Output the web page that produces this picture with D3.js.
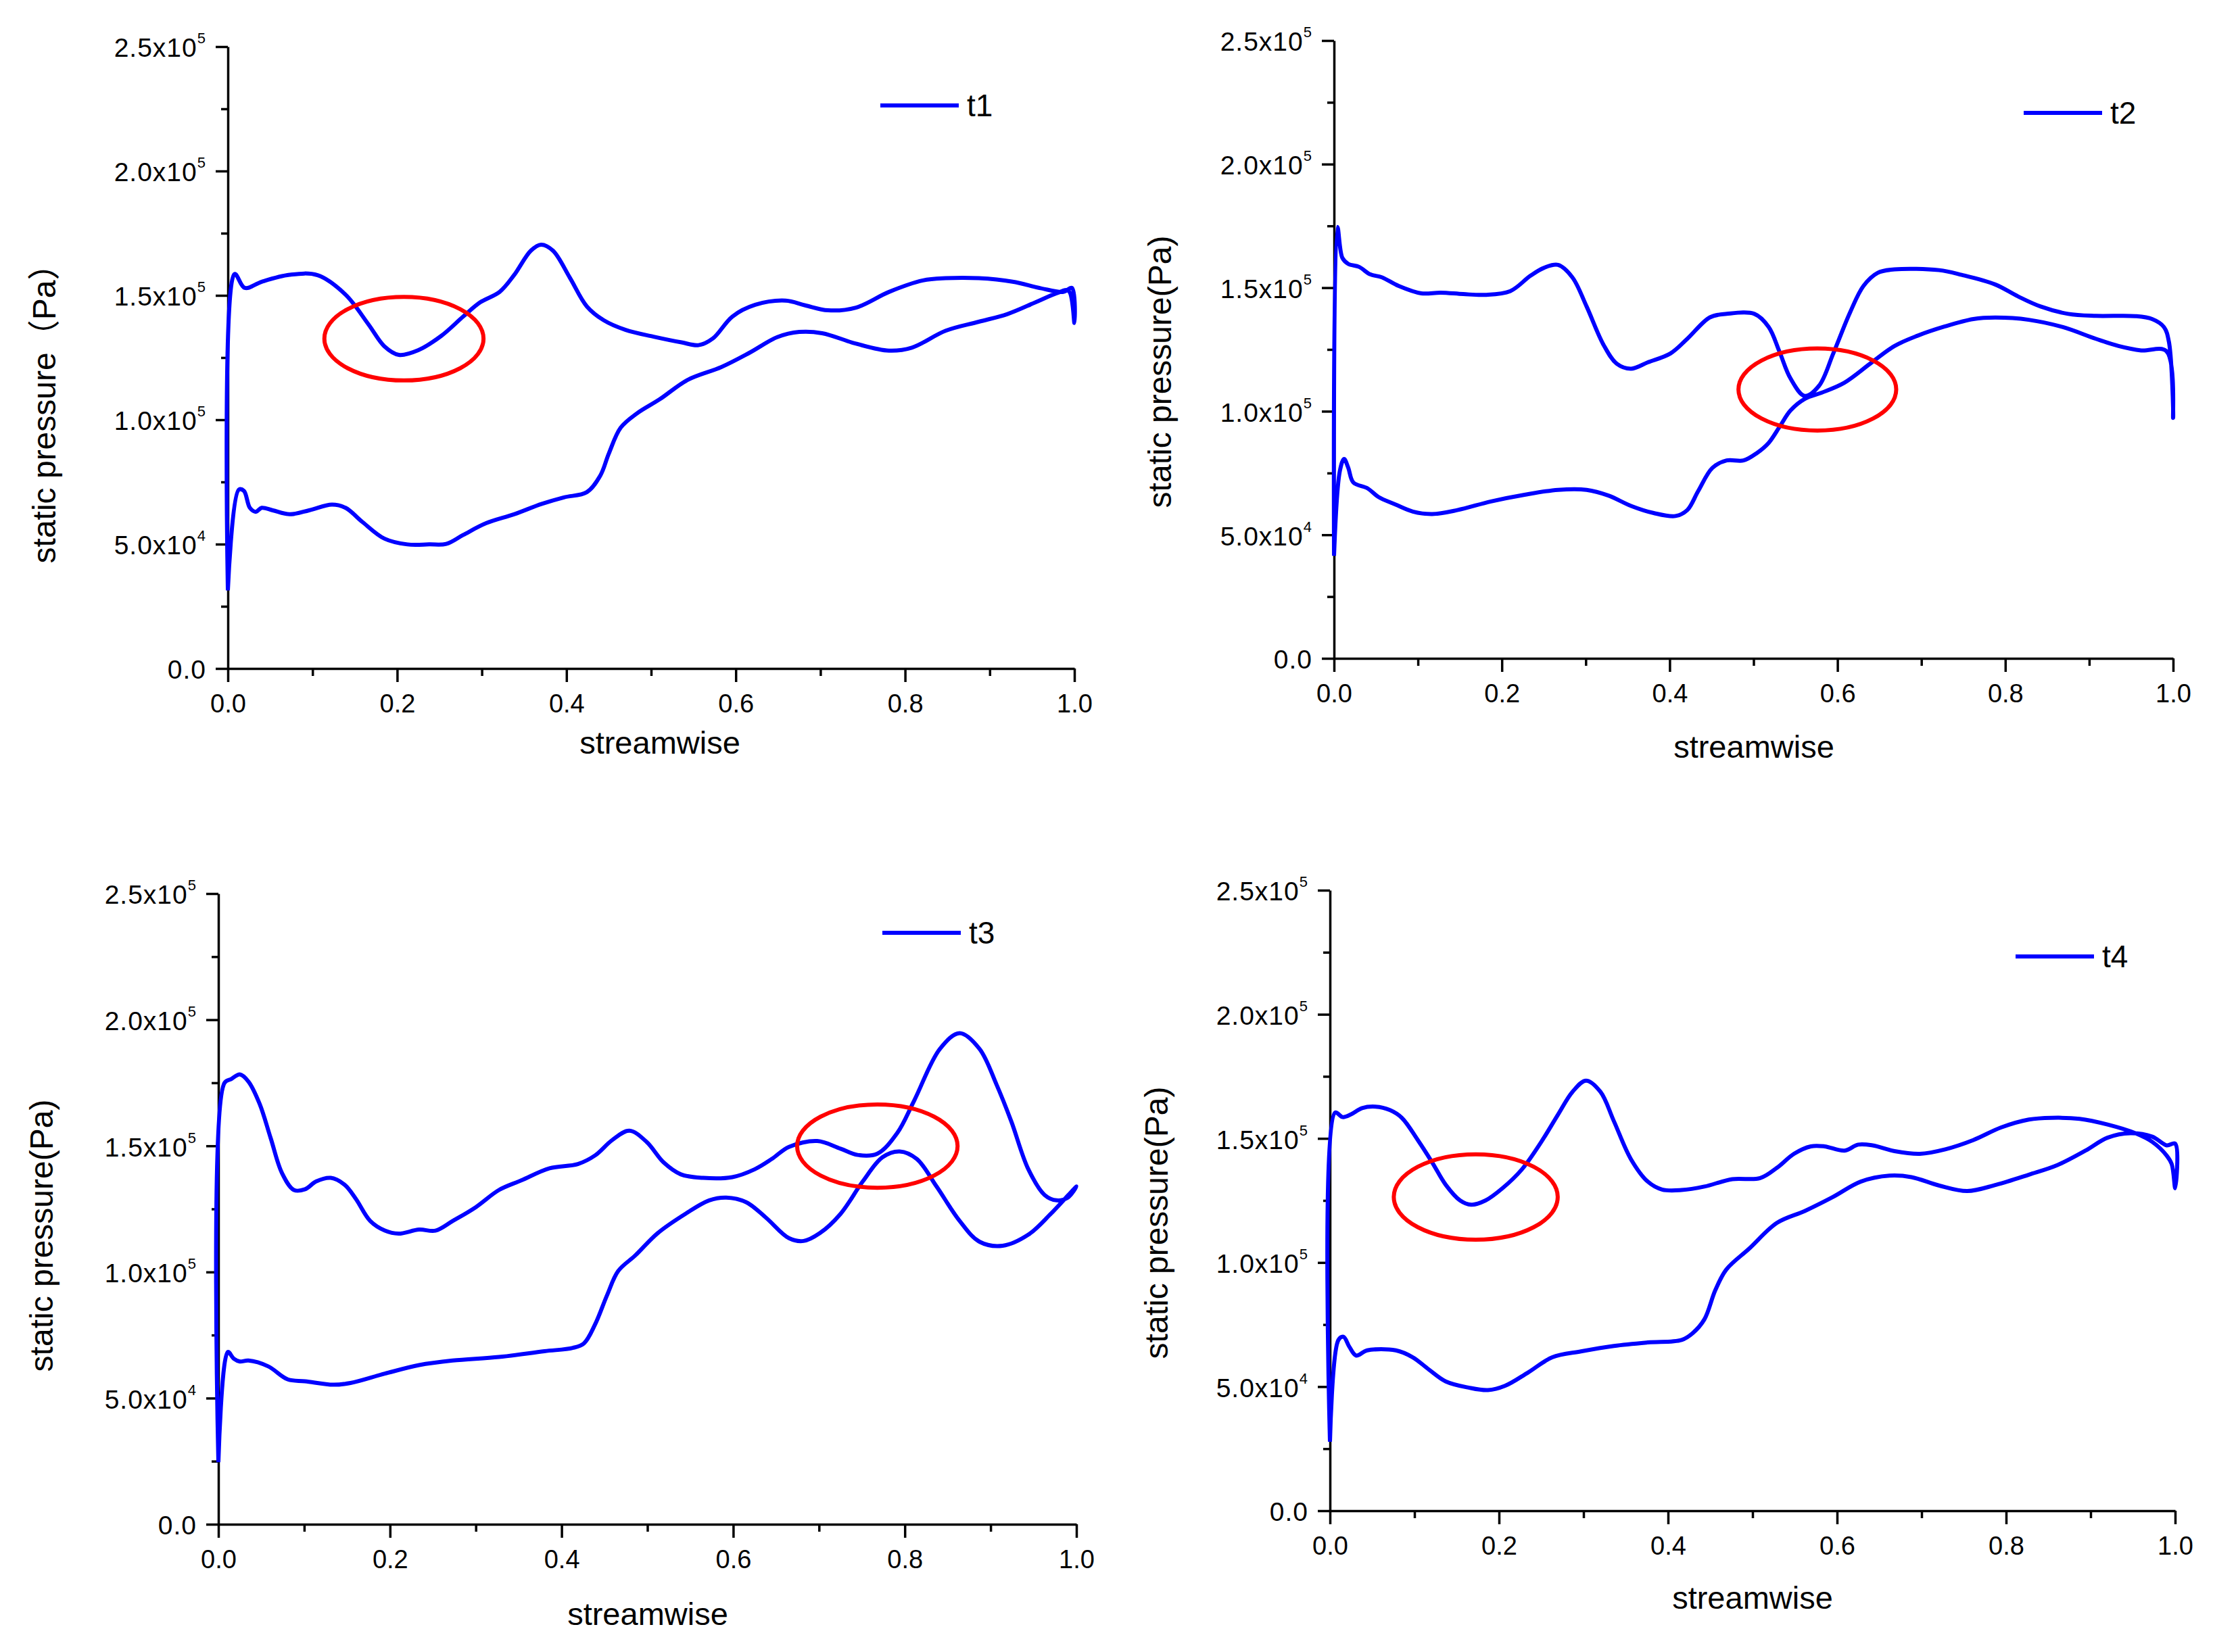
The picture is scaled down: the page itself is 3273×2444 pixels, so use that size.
<!DOCTYPE html>
<html lang="en">
<head>
    <meta charset="utf-8" />
    <script src="https://d3js.org/d3.v7.min.js"></script>
    <title>Static pressure</title>
    <style>
        body { margin: 0; background: #fff; }
        text { font-family: "Liberation Sans", Arial, "Noto Sans CJK SC", sans-serif; fill: #000; }
    </style>
</head>
<body>
    <script>
        // x ticks
        const xMajorTicks = [0, 0.2, 0.4, 0.6, 0.8, 1.0];
        const xMinorTicks = [0.1, 0.3, 0.5, 0.7, 0.9];
        const xTickLabels = ["0.0", "0.2", "0.4", "0.6", "0.8", "1.0"];

        // y ticks (pressure in 1e5 Pa)
        const yMajorTicks = [0, 0.5, 1.0, 1.5, 2.0, 2.5];
        const yMinorTicks = [0.25, 0.75, 1.25, 1.75, 2.25];
        const yTickMantissa = ["0.0", "5.0x10", "1.0x10", "1.5x10", "2.0x10", "2.5x10"];
        const yTickExponent = ["", "4", "5", "5", "5", "5"];

        const seriesNames = ["t1", "t2", "t3", "t4"];

        // [streamwise, static pressure (1e5 Pa)]
        const t1Upper = [[0,0.314],[0.008,1.586],[0.02,1.53],[0.04,1.555],[0.073,1.583],[0.106,1.581],[0.139,1.503],[0.166,1.384],[0.185,1.295],[0.202,1.261],[0.225,1.28],[0.252,1.337],[0.278,1.415],[0.298,1.472],[0.321,1.514],[0.338,1.581],[0.358,1.68],[0.37,1.704],[0.384,1.68],[0.404,1.571],[0.424,1.456],[0.444,1.4],[0.47,1.361],[0.503,1.334],[0.536,1.311],[0.556,1.3],[0.573,1.327],[0.596,1.415],[0.623,1.462],[0.659,1.479],[0.682,1.46],[0.709,1.44],[0.742,1.451],[0.781,1.514],[0.821,1.56],[0.848,1.569],[0.887,1.569],[0.927,1.555],[0.96,1.529],[0.987,1.514],[0.997,1.53],[1.0,1.389]];
        const t1Lower = [[0,0.314],[0.013,0.719],[0.019,0.714],[0.026,0.646],[0.033,0.63],[0.04,0.646],[0.053,0.636],[0.073,0.62],[0.096,0.636],[0.123,0.659],[0.139,0.646],[0.159,0.589],[0.185,0.522],[0.212,0.499],[0.238,0.499],[0.258,0.501],[0.278,0.537],[0.305,0.584],[0.338,0.62],[0.371,0.662],[0.397,0.688],[0.424,0.709],[0.44,0.776],[0.45,0.864],[0.464,0.968],[0.483,1.025],[0.51,1.082],[0.543,1.16],[0.583,1.212],[0.616,1.269],[0.649,1.332],[0.675,1.353],[0.702,1.348],[0.742,1.306],[0.781,1.278],[0.808,1.29],[0.848,1.358],[0.887,1.394],[0.921,1.425],[0.954,1.472],[0.98,1.51],[0.993,1.519]];

        const t2Upper = [[0,0.415],[0.004,1.746],[0.01,1.62],[0.017,1.596],[0.03,1.584],[0.043,1.554],[0.057,1.542],[0.077,1.507],[0.104,1.477],[0.127,1.48],[0.154,1.474],[0.18,1.471],[0.21,1.486],[0.234,1.548],[0.25,1.58],[0.267,1.592],[0.284,1.542],[0.301,1.424],[0.321,1.27],[0.337,1.192],[0.354,1.172],[0.374,1.198],[0.401,1.234],[0.421,1.293],[0.448,1.38],[0.468,1.394],[0.501,1.394],[0.518,1.341],[0.531,1.24],[0.544,1.133],[0.561,1.062],[0.578,1.103],[0.595,1.234],[0.615,1.4],[0.631,1.507],[0.648,1.56],[0.668,1.574],[0.721,1.571],[0.748,1.552],[0.788,1.513],[0.815,1.465],[0.842,1.424],[0.875,1.394],[0.908,1.386],[0.955,1.385],[0.975,1.373],[0.989,1.341],[0.995,1.281],[1.0,0.973]];
        const t2Lower = [[0,0.415],[0.007,0.759],[0.012,0.807],[0.017,0.771],[0.023,0.712],[0.04,0.688],[0.053,0.653],[0.073,0.623],[0.094,0.594],[0.117,0.584],[0.147,0.6],[0.187,0.635],[0.227,0.662],[0.267,0.682],[0.301,0.682],[0.327,0.659],[0.354,0.617],[0.381,0.588],[0.407,0.576],[0.421,0.6],[0.434,0.677],[0.451,0.771],[0.468,0.801],[0.488,0.801],[0.504,0.831],[0.518,0.872],[0.531,0.937],[0.544,1.003],[0.561,1.05],[0.581,1.075],[0.608,1.115],[0.641,1.198],[0.668,1.264],[0.695,1.305],[0.728,1.343],[0.762,1.373],[0.788,1.379],[0.828,1.37],[0.868,1.341],[0.908,1.293],[0.935,1.264],[0.962,1.246],[0.992,1.243]];

        const t3Upper = [[0,0.246],[0.007,1.749],[0.015,1.765],[0.025,1.783],[0.035,1.755],[0.048,1.667],[0.061,1.53],[0.074,1.393],[0.088,1.325],[0.101,1.328],[0.114,1.359],[0.131,1.373],[0.147,1.346],[0.16,1.291],[0.177,1.202],[0.194,1.164],[0.21,1.152],[0.234,1.168],[0.253,1.164],[0.273,1.202],[0.3,1.257],[0.327,1.325],[0.353,1.363],[0.386,1.411],[0.419,1.428],[0.439,1.462],[0.459,1.523],[0.479,1.56],[0.499,1.516],[0.519,1.434],[0.539,1.387],[0.565,1.373],[0.599,1.376],[0.625,1.407],[0.645,1.448],[0.665,1.496],[0.698,1.519],[0.725,1.489],[0.745,1.464],[0.768,1.469],[0.791,1.55],[0.811,1.68],[0.841,1.885],[0.864,1.947],[0.887,1.885],[0.907,1.742],[0.924,1.598],[0.944,1.407],[0.963,1.305],[0.977,1.284],[0.99,1.295],[1.0,1.339]];
        const t3Lower = [[0,0.246],[0.011,0.683],[0.018,0.656],[0.025,0.645],[0.035,0.649],[0.058,0.626],[0.081,0.574],[0.101,0.567],[0.134,0.553],[0.154,0.56],[0.194,0.597],[0.234,0.631],[0.273,0.649],[0.327,0.663],[0.38,0.686],[0.413,0.699],[0.426,0.717],[0.439,0.792],[0.453,0.908],[0.466,1.004],[0.486,1.066],[0.512,1.154],[0.545,1.232],[0.572,1.284],[0.592,1.295],[0.615,1.277],[0.638,1.216],[0.665,1.134],[0.682,1.123],[0.701,1.154],[0.725,1.23],[0.751,1.359],[0.774,1.455],[0.794,1.478],[0.814,1.448],[0.837,1.339],[0.864,1.202],[0.887,1.12],[0.914,1.104],[0.944,1.148],[0.97,1.23]];

        const t4Upper = [[0,0.278],[0.006,1.604],[0.015,1.586],[0.025,1.597],[0.038,1.622],[0.054,1.628],[0.071,1.614],[0.085,1.583],[0.104,1.493],[0.121,1.403],[0.137,1.313],[0.154,1.25],[0.167,1.233],[0.184,1.25],[0.204,1.299],[0.227,1.375],[0.25,1.486],[0.27,1.597],[0.287,1.688],[0.303,1.733],[0.32,1.688],[0.336,1.569],[0.356,1.417],[0.376,1.326],[0.393,1.294],[0.416,1.292],[0.443,1.306],[0.476,1.336],[0.509,1.34],[0.529,1.382],[0.549,1.438],[0.569,1.468],[0.585,1.468],[0.609,1.451],[0.625,1.475],[0.642,1.472],[0.668,1.449],[0.698,1.438],[0.728,1.456],[0.761,1.493],[0.794,1.544],[0.827,1.576],[0.854,1.583],[0.887,1.579],[0.92,1.556],[0.953,1.521],[0.973,1.486],[0.99,1.431],[0.996,1.396],[1.0,1.299]];
        const t4Lower = [[0,0.278],[0.01,0.688],[0.016,0.701],[0.023,0.66],[0.031,0.625],[0.044,0.646],[0.078,0.646],[0.098,0.618],[0.117,0.569],[0.137,0.521],[0.164,0.496],[0.187,0.486],[0.207,0.503],[0.234,0.556],[0.263,0.618],[0.297,0.642],[0.336,0.664],[0.376,0.678],[0.416,0.688],[0.429,0.715],[0.443,0.771],[0.456,0.889],[0.469,0.972],[0.496,1.056],[0.529,1.16],[0.562,1.208],[0.595,1.264],[0.628,1.326],[0.662,1.35],[0.688,1.344],[0.721,1.31],[0.754,1.288],[0.788,1.313],[0.827,1.354],[0.861,1.393],[0.894,1.451],[0.92,1.503],[0.947,1.521],[0.973,1.507],[0.99,1.472],[1.0,1.479]];

        // red marks: [cx, cy, rx, ry] in data units
        const t1Circle = [0.208, 1.326, 0.094, 0.168];
        const t2Circle = [0.576, 1.088, 0.094, 0.166];
        const t3Circle = [0.768, 1.499, 0.0935, 0.165];
        const t4Circle = [0.1725, 1.264, 0.097, 0.172];

        const width = 3273;
        const height = 2444;

        // panel layout
        const panels = [
            { upper: t1Upper, lower: t1Lower, mark: t1Circle, x0: 337, x1: 1589, yTop: 69, yBot: 989,
              yTitle: "static pressure（Pa）", yTitleX: 82, yTitleY: 600, xTitleX: 976, xTitleDy: 126, legX: 1302, legY: 156 },
            { upper: t2Upper, lower: t2Lower, mark: t2Circle, x0: 1973, x1: 3214, yTop: 60, yBot: 974,
              yTitle: "static pressure(Pa)", yTitleX: 1732, yTitleY: 550, xTitleX: 2594, xTitleDy: 147, legX: 2993, legY: 167 },
            { upper: t3Upper, lower: t3Lower, mark: t3Circle, x0: 323, x1: 1592, yTop: 1322, yBot: 2255,
              yTitle: "static pressure(Pa)", yTitleX: 78, yTitleY: 1828, xTitleX: 958, xTitleDy: 149, legX: 1305, legY: 1380 },
            { upper: t4Upper, lower: t4Lower, mark: t4Circle, x0: 1967, x1: 3217, yTop: 1317, yBot: 2235,
              yTitle: "static pressure(Pa)", yTitleX: 1727, yTitleY: 1809, xTitleX: 2592, xTitleDy: 145, legX: 2981, legY: 1415 }
        ];

        const svg = d3.select("body")
            .append("svg")
            .attr("width", width)
            .attr("height", height);

        svg.append("rect").attr("width", width).attr("height", height).attr("fill", "#fff");

        panels.forEach((p, k) => {
            const xScale = d3.scaleLinear().domain([0, 1]).range([p.x0, p.x1]);
            const yScale = d3.scaleLinear().domain([0, 2.5]).range([p.yBot, p.yTop]);
            const g = svg.append("g");

            // minor ticks first
            g.append("g")
                .attr("transform", "translate(0," + p.yBot + ")")
                .call(d3.axisBottom(xScale).tickValues(xMinorTicks).tickSize(11).tickSizeOuter(0).tickFormat(""))
                .call(a => a.select(".domain").remove());
            g.append("g")
                .attr("transform", "translate(" + p.x0 + ",0)")
                .call(d3.axisLeft(yScale).tickValues(yMinorTicks).tickSize(10).tickSizeOuter(0).tickFormat(""))
                .call(a => a.select(".domain").remove());

            // x axis
            const xAxis = g.append("g")
                .attr("transform", "translate(0," + p.yBot + ")")
                .call(d3.axisBottom(xScale).tickValues(xMajorTicks).tickSize(20).tickPadding(18)
                    .tickSizeOuter(0).tickFormat((d, i) => xTickLabels[i]));
            xAxis.selectAll("text").attr("font-size", 38);

            // y axis
            const yAxis = g.append("g")
                .attr("transform", "translate(" + p.x0 + ",0)")
                .call(d3.axisLeft(yScale).tickValues(yMajorTicks).tickSize(18).tickPadding(14)
                    .tickSizeOuter(0).tickFormat(""));
            yAxis.selectAll(".tick text").each(function (d, i) {
                const t = d3.select(this).attr("font-size", 39).attr("dy", "0.38em")
                    .attr("letter-spacing", 1);
                t.append("tspan").text(yTickMantissa[i]);
                if (yTickExponent[i]) {
                    t.append("tspan").attr("font-size", 22).attr("dy", -20).text(yTickExponent[i]);
                }
            });

            g.selectAll(".domain, .tick line").attr("stroke", "#000").attr("stroke-width", 3.5);
            g.selectAll(".tick text").attr("fill", "#000");
            g.selectAll("g").attr("font-family", null);

            // titles
            g.append("text")
                .attr("x", p.xTitleX)
                .attr("y", p.yBot + p.xTitleDy)
                .attr("text-anchor", "middle")
                .attr("font-size", 47)
                .text("streamwise");
            g.append("text")
                .attr("transform", "translate(" + p.yTitleX + "," + p.yTitleY + ") rotate(-90)")
                .attr("text-anchor", "middle")
                .attr("font-size", 48)
                .text(p.yTitle);

            // curve: upper side out, lower side back
            const loop = p.upper.concat(p.lower.slice().reverse());
            const line = d3.line()
                .x(d => xScale(d[0]))
                .y(d => yScale(d[1]))
                .curve(d3.curveCatmullRom.alpha(0.5));
            g.append("path")
                .attr("d", line(loop))
                .attr("fill", "none")
                .attr("stroke", "#0000ff")
                .attr("stroke-width", 6)
                .attr("stroke-linejoin", "round");

            // red mark
            const m = p.mark;
            g.append("ellipse")
                .attr("cx", xScale(m[0]))
                .attr("cy", yScale(m[1]))
                .attr("rx", xScale(m[2]) - xScale(0))
                .attr("ry", yScale(0) - yScale(m[3]))
                .attr("fill", "none")
                .attr("stroke", "#ff0000")
                .attr("stroke-width", 6);

            // legend
            g.append("line")
                .attr("x1", p.legX).attr("x2", p.legX + 116)
                .attr("y1", p.legY).attr("y2", p.legY)
                .attr("stroke", "#0000ff")
                .attr("stroke-width", 6);
            g.append("text")
                .attr("x", p.legX + 128)
                .attr("y", p.legY + 16)
                .attr("font-size", 46)
                .text(seriesNames[k]);
        });
    </script>
</body>
</html>
